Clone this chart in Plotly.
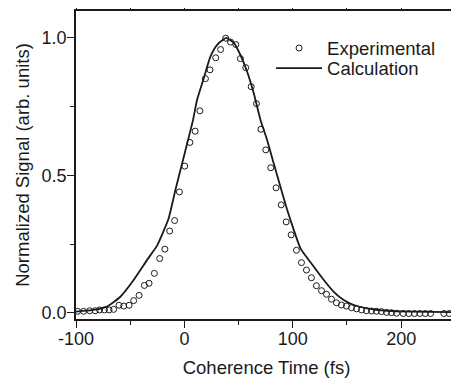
import plotly.graph_objects as go

# Experimental data (coherence time in fs, normalized signal)
exp_t = [-98.5, -93.0, -87.4, -82.4, -78.2, -73.8, -69.5, -65.3, -60.3, -56.0,
         -51.0, -46.8, -41.8, -36.9, -32.6, -27.7, -22.8, -18.0, -13.6, -9.0,
         -4.6, 0.3, 5.1, 9.9, 14.3, 19.4, 23.6, 28.9, 33.4, 38.1,
         42.6, 47.4, 51.7, 56.6, 61.6, 66.5, 70.6, 75.1, 79.7, 84.6,
         89.3, 93.9, 98.5, 103.4, 108.0, 112.6, 117.2, 121.8, 126.5, 131.1,
         135.7, 140.3, 144.9, 149.5, 154.2, 158.8, 163.4, 168.0, 172.6, 177.2,
         181.8, 186.5, 191.1, 195.7, 201.9, 207.1, 212.3, 217.2, 222.2, 227.1,
         239.4, 244.3, 249.2]
exp_s = [0.006, 0.006, 0.008, 0.008, 0.011, 0.011, 0.011, 0.013, 0.028, 0.025,
         0.028, 0.045, 0.064, 0.100, 0.108, 0.144, 0.198, 0.232, 0.298, 0.336,
         0.440, 0.534, 0.620, 0.661, 0.735, 0.852, 0.884, 0.928, 0.958, 0.999,
         0.985, 0.976, 0.925, 0.892, 0.823, 0.761, 0.668, 0.593, 0.528, 0.455,
         0.393, 0.331, 0.284, 0.228, 0.183, 0.156, 0.128, 0.099, 0.081, 0.068,
         0.050, 0.037, 0.029, 0.025, 0.019, 0.015, 0.011, 0.008, 0.007, 0.006,
         0.005, 0.002, 0.001, -0.001, -0.002, -0.002, -0.002, -0.002, -0.002, -0.002,
         -0.002, -0.002, -0.002]

# Calculated curve
calc_t = [-100.0, -83.7, -71.4, -59.1, -46.8, -34.4, -25.2, -20.0, -14.5, -8.3,
          0.3, 8.0, 11.7, 17.8, 24.0, 30.2, 36.3, 38.6, 40.9, 45.5,
          51.7, 57.9, 64.0, 70.2, 76.3, 82.4, 88.6, 94.8, 100.9, 107.1,
          119.4, 128.6, 137.8, 147.0, 156.3, 168.6, 187.1, 208.6, 251.5]
calc_s = [0.005, 0.011, 0.023, 0.059, 0.120, 0.193, 0.245, 0.290, 0.344, 0.447,
          0.581, 0.702, 0.775, 0.853, 0.932, 0.975, 0.995, 1.000, 0.995, 0.983,
          0.938, 0.877, 0.799, 0.702, 0.629, 0.544, 0.459, 0.375, 0.302, 0.235,
          0.168, 0.120, 0.077, 0.047, 0.029, 0.017, 0.008, 0.005, 0.003]

x_tickvals = [-100, 0, 100, 200]
x_ticktext = ["-100", "0", "100", "200"]
y_tickvals = [0.0, 0.5, 1.0]
y_ticktext = ["0.0", "0.5", "1.0"]

FONT = "Liberation Sans, Arial, sans-serif"
INK = "#1a1a1a"

fig = go.Figure()
fig.add_trace(go.Scatter(
    x=exp_t, y=exp_s, mode="markers", name="Experimental", legend="legend",
    marker=dict(symbol="circle-open", size=6, color=INK, line=dict(width=1, color=INK)),
))
fig.add_trace(go.Scatter(
    x=calc_t, y=calc_s, mode="lines", name="Calculation", legend="legend2",
    line=dict(color=INK, width=1.8, shape="spline", smoothing=0.5),
))

axis_common = dict(
    showline=True, linecolor=INK, linewidth=1.5, mirror="ticks",
    ticks="outside", ticklen=7, tickwidth=1.3, tickcolor=INK,
    showgrid=False, zeroline=False, automargin=False,
    tickfont=dict(family=FONT, size=18, color=INK),
    title_font=dict(family=FONT, size=18.5, color=INK),
)

legend_common = dict(
    xanchor="left", yanchor="top",
    bgcolor="rgba(0,0,0,0)", borderwidth=0,
    font=dict(family=FONT, size=18.5, color=INK),
    itemwidth=46,
)

fig.update_layout(
    width=451, height=375,
    margin=dict(l=68, r=2, t=3, b=64),
    paper_bgcolor="white", plot_bgcolor="white",
    font=dict(family=FONT, color=INK),
    showlegend=True,
    legend=dict(x=0.512, y=0.940, **legend_common),
    legend2=dict(x=0.512, y=0.875, **legend_common),
    xaxis=dict(
        range=[-100, 251.5], tickvals=x_tickvals, ticktext=x_ticktext,
        ticklabelstandoff=-4,
        title=dict(text="Coherence Time (fs)", standoff=13),
        minor=dict(dtick=50, tick0=0, ticks="outside", ticklen=4, tickwidth=1.2, tickcolor=INK),
        **axis_common,
    ),
    yaxis=dict(
        range=[-0.022, 1.098], tickvals=y_tickvals, ticktext=y_ticktext,
        ticklabelstandoff=-3,
        title=dict(text="Normalized Signal (arb. units)", standoff=7),
        minor=dict(dtick=0.25, tick0=0, ticks="outside", ticklen=4, tickwidth=1.2, tickcolor=INK),
        **axis_common,
    ),
)

fig.write_html("out.html")
